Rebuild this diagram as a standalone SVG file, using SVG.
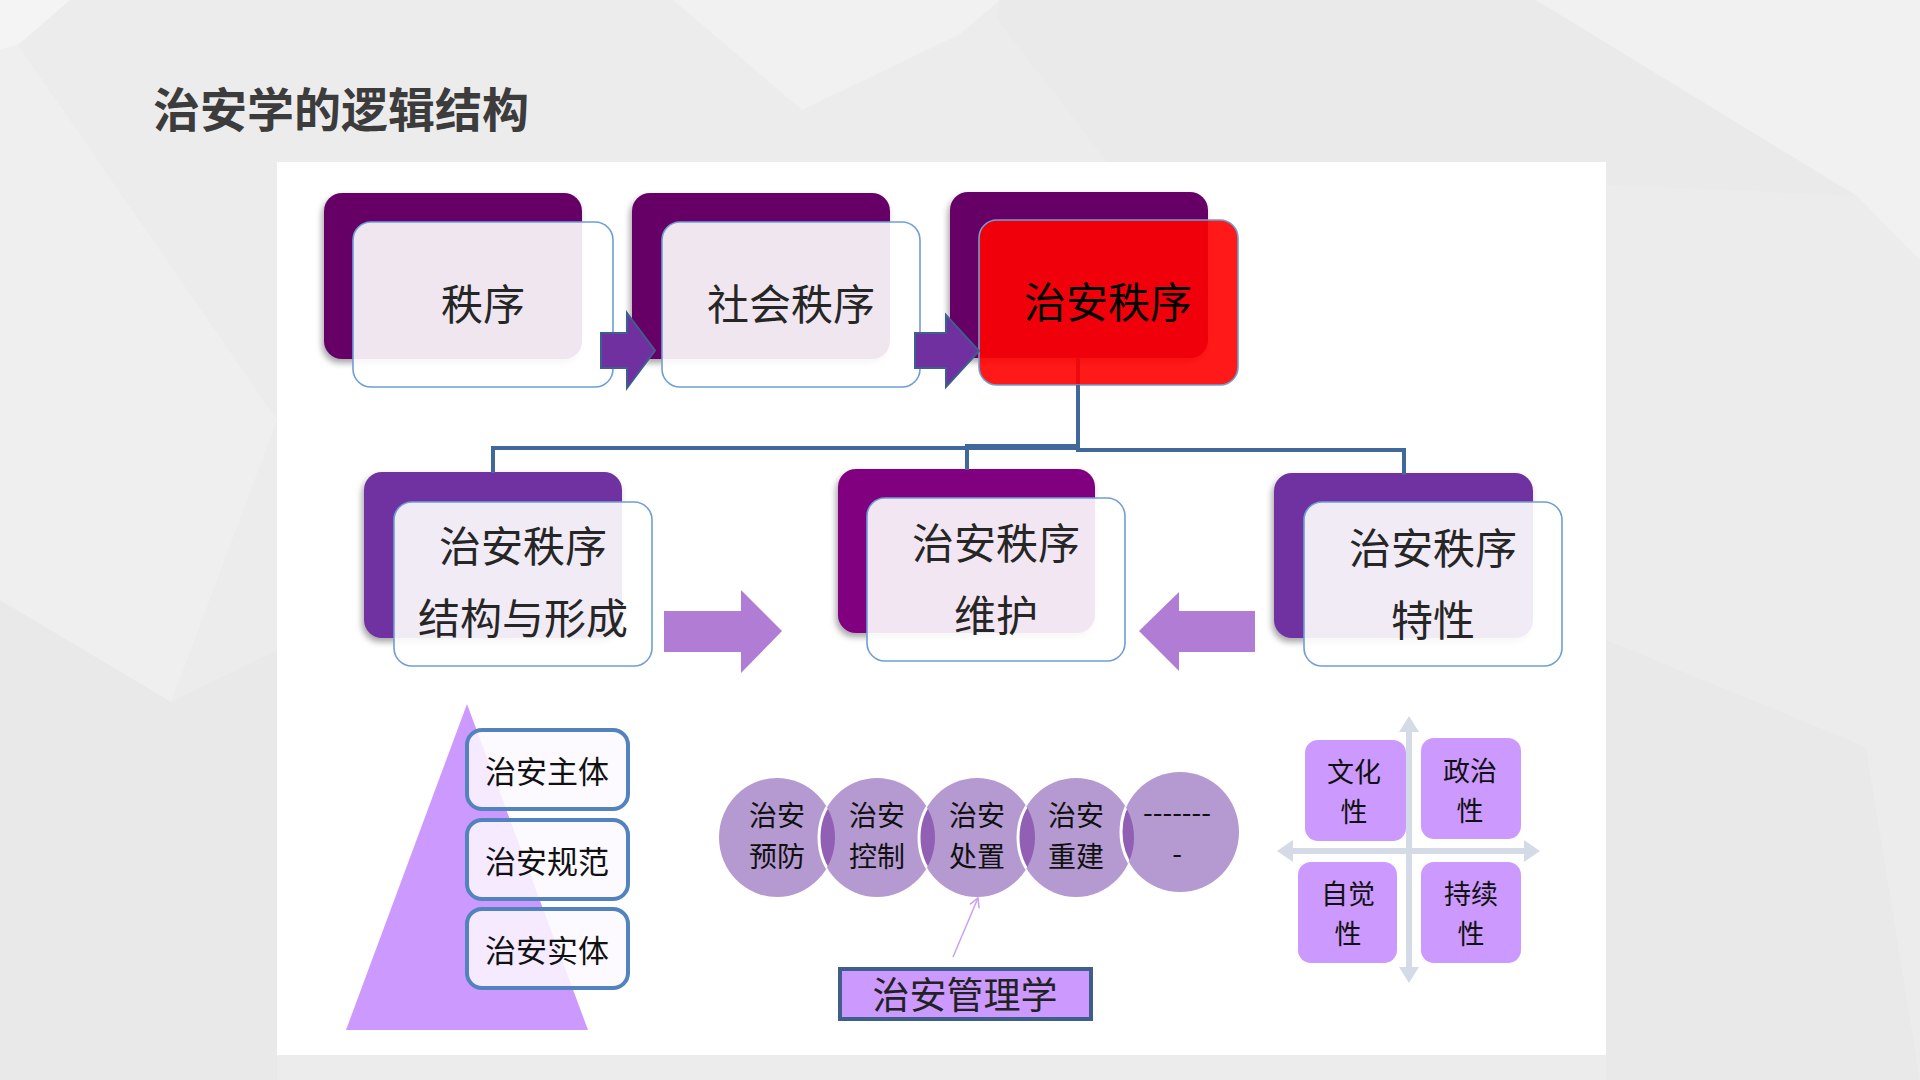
<svg xmlns="http://www.w3.org/2000/svg" width="1920" height="1080" viewBox="0 0 1920 1080">
<defs>
<style>
.t{font-family:"Noto Sans CJK SC","Noto Sans",sans-serif;dominant-baseline:central;text-anchor:middle}
.song{fill:#262626;font-size:42px}
.bk{fill:#111;font-size:31px}
.c{font-size:28px}
.front{fill:#fff;fill-opacity:0.9;stroke:#6e9ed6;stroke-width:1.6}
.conn{fill:none;stroke:#41689b;stroke-width:4}
.sbox{fill:#fbf8ff;fill-opacity:0.85;stroke:#5283bf;stroke-width:4}
.quad{fill:#cc99ff}
.ax{stroke:#d4dbe6;stroke-width:6;fill:none}
.q{font-size:27px}
</style>
<filter id="sh" x="-10%" y="-10%" width="125%" height="130%">
<feDropShadow dx="-2" dy="4" stdDeviation="3" flood-color="#000" flood-opacity="0.35"/>
</filter>
<marker id="open" viewBox="0 0 12 12" refX="10" refY="6" markerWidth="12" markerHeight="12" orient="auto" markerUnits="userSpaceOnUse">
<path d="M1,1 L10,6 L1,11" fill="none" stroke="#c9a0f5" stroke-width="1.5"/>
</marker>
<clipPath id="c1"><ellipse cx="777" cy="837.5" rx="58" ry="59.5"/></clipPath>
<clipPath id="c2"><ellipse cx="877" cy="837.5" rx="58" ry="59.5"/></clipPath>
<clipPath id="c3"><ellipse cx="977" cy="837.5" rx="58" ry="59.5"/></clipPath>
<clipPath id="c4"><ellipse cx="1076" cy="837.5" rx="58" ry="59.5"/></clipPath>
</defs>

<!-- background -->
<rect width="1920" height="1080" fill="#ececec"/>
<polygon points="0,0 70,0 18,45 0,50" fill="#f4f4f4"/>
<polygon points="0,50 18,45 277,420 171,702 0,600" fill="#efefef"/>
<polygon points="0,600 171,702 277,650 277,1080 0,1080" fill="#e9e9e9"/>
<polygon points="673,0 1000,0 960,34 802,110" fill="#f1f1f1"/>
<polygon points="1000,0 1536,0 1857,196 1107,162 997,19" fill="#eaeaea"/>
<polygon points="1536,0 1920,0 1920,260 1857,196" fill="#f1f1f1"/>
<polygon points="1606,640 1866,747 1920,1080 1606,1080" fill="#e9e9e9"/>

<!-- title -->
<text x="153" y="106" font-family="'Noto Sans CJK SC','Noto Sans',sans-serif" font-weight="700" font-size="47" fill="#3c3c3c" dominant-baseline="central">治安学的逻辑结构</text>

<!-- panel -->
<rect x="277" y="162" width="1329" height="893" fill="#ffffff"/>

<!-- top row -->
<g id="n-zhixu">
<rect x="324" y="193" width="258" height="166" rx="18" fill="#660066" filter="url(#sh)"/>
<rect class="front" x="353" y="222" width="260" height="165" rx="18"/>
<text class="t song" x="483" y="301">秩序</text>
</g>
<g id="n-shehui">
<rect x="632" y="193" width="258" height="166" rx="18" fill="#660066" filter="url(#sh)"/>
<rect class="front" x="662" y="222" width="258" height="165" rx="18"/>
<text class="t song" x="791" y="301">社会秩序</text>
</g>
<g id="n-zhian">
<rect x="950" y="192" width="258" height="166" rx="18" fill="#660066" filter="url(#sh)"/>
<path d="M1078,357 V385" stroke="#41689b" stroke-width="4"/>
<rect x="979" y="220" width="259" height="165" rx="18" fill="#ff0000" fill-opacity="0.9" stroke="#6e9ed6" stroke-width="1.6"/>
<text class="t" x="1108" y="299" font-size="42" fill="#000">治安秩序</text>
</g>

<!-- middle row -->
<g id="n-jiegou">
<rect x="364" y="472" width="258" height="166" rx="18" fill="#7030a0" filter="url(#sh)"/>
<rect class="front" x="394" y="502" width="258" height="164" rx="18"/>
<text class="t song" x="523" y="543">治安秩序<tspan x="523" dy="72">结构与形成</tspan></text>
</g>
<g id="n-weihu">
<rect x="838" y="469" width="257" height="164" rx="18" fill="#800080" filter="url(#sh)"/>
<rect class="front" x="867" y="498" width="258" height="163" rx="18"/>
<text class="t song" x="996" y="540">治安秩序<tspan x="996" dy="72">维护</tspan></text>
</g>
<g id="n-texing">
<rect x="1274" y="473" width="259" height="165" rx="18" fill="#7030a0" filter="url(#sh)"/>
<rect class="front" x="1304" y="502" width="258" height="164" rx="18"/>
<text class="t song" x="1433" y="545">治安秩序<tspan x="1433" dy="72">特性</tspan></text>
</g>

<!-- connectors -->
<g id="connectors">
<path class="conn" d="M1078,385 V446 H967 V470"/>
<path class="conn" d="M1078,385 V448 H493 V473"/>
<path class="conn" d="M1078,385 V450 H1404 V475"/>
<path d="M601,333 H627 V313 L655,350.5 L627,388 V368 H601 Z" fill="#7030a0" stroke="#3d5f8f" stroke-width="2"/>
<path d="M915,333 H946 V315 L979,351 L946,387 V368 H915 Z" fill="#7030a0" stroke="#3d5f8f" stroke-width="2"/>
<path d="M664,611 H741 V590 L782,631 L741,673 V652 H664 Z" fill="#b07cd4"/>
<path d="M1255,611 H1179 V592 L1139,631 L1179,671 V652 H1255 Z" fill="#b07cd4"/>
<line x1="953" y1="957" x2="978" y2="898" stroke="#c9a0f5" stroke-width="1.5" marker-end="url(#open)"/>
</g>

<!-- pyramid -->
<g id="pyramid">
<polygon points="467,704 346,1030 588,1030" fill="#cc99ff"/>
<g id="n-zhuti">
<rect class="sbox" x="467" y="730" width="161" height="79" rx="15"/>
<text class="t bk" x="547" y="769" font-size="33">治安主体</text>
</g>
<g id="n-guifan">
<rect class="sbox" x="467" y="820" width="161" height="79" rx="15"/>
<text class="t bk" x="547" y="859" font-size="33">治安规范</text>
</g>
<g id="n-shiti">
<rect class="sbox" x="467" y="909" width="161" height="79" rx="15"/>
<text class="t bk" x="547" y="948" font-size="33">治安实体</text>
</g>
</g>

<!-- process circles -->
<g id="process">
<g id="n-yufang">
<ellipse cx="777" cy="837.5" rx="58" ry="59.5" fill="#b49ad0"/>
</g>
<g id="n-kongzhi">
<ellipse cx="877" cy="837.5" rx="58" ry="59.5" fill="#b49ad0"/>
<ellipse cx="877" cy="837.5" rx="58" ry="59.5" fill="#915fb3" clip-path="url(#c1)"/>
<ellipse cx="877" cy="837.5" rx="58" ry="59.5" fill="none" stroke="#fff" stroke-width="3" clip-path="url(#c1)"/>
</g>
<g id="n-chuzhi">
<ellipse cx="977" cy="837.5" rx="58" ry="59.5" fill="#b49ad0"/>
<ellipse cx="977" cy="837.5" rx="58" ry="59.5" fill="#915fb3" clip-path="url(#c2)"/>
<ellipse cx="977" cy="837.5" rx="58" ry="59.5" fill="none" stroke="#fff" stroke-width="3" clip-path="url(#c2)"/>
</g>
<g id="n-chongjian">
<ellipse cx="1076" cy="837.5" rx="58" ry="59.5" fill="#b49ad0"/>
<ellipse cx="1076" cy="837.5" rx="58" ry="59.5" fill="#915fb3" clip-path="url(#c3)"/>
<ellipse cx="1076" cy="837.5" rx="58" ry="59.5" fill="none" stroke="#fff" stroke-width="3" clip-path="url(#c3)"/>
</g>
<g id="n-more">
<ellipse cx="1180" cy="832" rx="59" ry="60" fill="#b49ad0"/>
<ellipse cx="1180" cy="832" rx="59" ry="60" fill="#915fb3" clip-path="url(#c4)"/>
<ellipse cx="1180" cy="832" rx="59" ry="60" fill="none" stroke="#fff" stroke-width="3" clip-path="url(#c4)"/>
</g>
<text class="t bk c" x="777" y="814">治安<tspan x="777" dy="41">预防</tspan></text>
<text class="t bk c" x="877" y="814">治安<tspan x="877" dy="41">控制</tspan></text>
<text class="t bk c" x="977" y="814">治安<tspan x="977" dy="41">处置</tspan></text>
<text class="t bk c" x="1076" y="814">治安<tspan x="1076" dy="41">重建</tspan></text>
<text class="t bk c" x="1177" y="811">-------<tspan x="1177" dy="41">-</tspan></text>
</g>

<g id="n-guanli">
<rect x="840" y="969" width="251" height="50" fill="#cc99ff" stroke="#3f5f8a" stroke-width="4"/>
<text class="t" x="965" y="993" font-size="37" fill="#222">治安管理学</text>
</g>

<!-- quadrant -->
<g id="quadrant">
<path class="ax" d="M1409,730 V970 M1290,851 H1527"/>
<polygon points="1409,716 1399,732 1419,732" fill="#d4dbe6"/>
<polygon points="1409,983 1399,967 1419,967" fill="#d4dbe6"/>
<polygon points="1277,851 1293,840 1293,862" fill="#d4dbe6"/>
<polygon points="1540,851 1524,840 1524,862" fill="#d4dbe6"/>
<g id="n-wenhua">
<rect class="quad" x="1305" y="740" width="101" height="101" rx="13"/>
<text class="t bk q" x="1354" y="770">文化<tspan x="1354" dy="40">性</tspan></text>
</g>
<g id="n-zhengzhi">
<rect class="quad" x="1421" y="738" width="100" height="101" rx="13"/>
<text class="t bk q" x="1470" y="769">政治<tspan x="1470" dy="40">性</tspan></text>
</g>
<g id="n-zijue">
<rect class="quad" x="1298" y="862" width="99" height="101" rx="13"/>
<text class="t bk q" x="1348" y="892">自觉<tspan x="1348" dy="40">性</tspan></text>
</g>
<g id="n-chixu">
<rect class="quad" x="1421" y="862" width="100" height="101" rx="13"/>
<text class="t bk q" x="1471" y="892">持续<tspan x="1471" dy="40">性</tspan></text>
</g>
</g>
</svg>
